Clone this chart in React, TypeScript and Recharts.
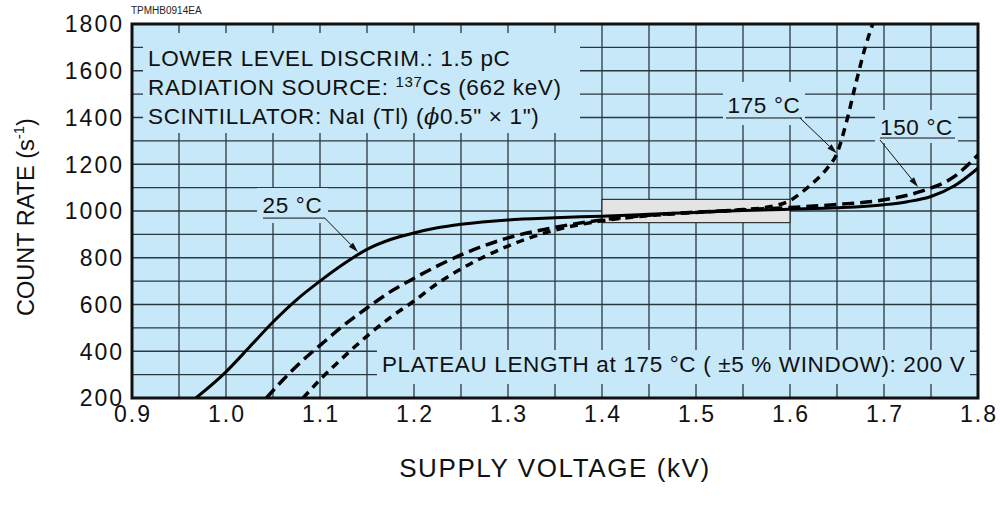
import {
  LineChart,
  Line,
  XAxis,
  YAxis,
  CartesianGrid,
  ReferenceArea,
  ReferenceLine,
} from "recharts";

const FONT = '"Liberation Sans", Arial, Helvetica, sans-serif';
const BG = "#c6e8f8";

// grid every 0.05 kV / 100 s-1, labels every 0.1 kV / 200 s-1
const xGrid = [0.9, 0.95, 1.0, 1.05, 1.1, 1.15, 1.2, 1.25, 1.3, 1.35, 1.4, 1.45, 1.5, 1.55, 1.6, 1.65, 1.7, 1.75, 1.8];
const xLabels = [0.9, 1.0, 1.1, 1.2, 1.3, 1.4, 1.5, 1.6, 1.7, 1.8];
const yGrid = [200, 300, 400, 500, 600, 700, 800, 900, 1000, 1100, 1200, 1300, 1400, 1500, 1600, 1700, 1800];
const yLabels = [200, 400, 600, 800, 1000, 1200, 1400, 1600, 1800];

// 25 °C (solid)
const kv25 = [0.968, 1.0, 1.025, 1.05, 1.075, 1.1, 1.125, 1.15, 1.175, 1.2, 1.225, 1.25, 1.3, 1.35, 1.4, 1.45, 1.5, 1.55, 1.6, 1.65, 1.7, 1.725, 1.75, 1.775, 1.8];
const rate25 = [200, 312, 418, 525, 620, 700, 773, 836, 878, 906, 928, 943, 962, 971, 978, 986, 994, 1002, 1008, 1014, 1027, 1040, 1062, 1108, 1183];

// 150 °C (long dash)
const kv150 = [1.043, 1.06, 1.08, 1.1, 1.125, 1.15, 1.175, 1.2, 1.225, 1.25, 1.275, 1.3, 1.35, 1.4, 1.45, 1.5, 1.55, 1.6, 1.65, 1.7, 1.74, 1.775, 1.8];
const rate150 = [200, 275, 355, 425, 510, 585, 655, 712, 765, 812, 852, 885, 930, 962, 982, 995, 1005, 1015, 1028, 1048, 1085, 1148, 1240];

// 175 °C (short dash)
const kv175 = [1.082, 1.1, 1.125, 1.15, 1.175, 1.2, 1.225, 1.25, 1.275, 1.3, 1.35, 1.4, 1.45, 1.5, 1.55, 1.575, 1.6, 1.62, 1.64, 1.65, 1.66, 1.67, 1.68, 1.688];
const rate175 = [200, 278, 375, 465, 545, 615, 690, 752, 805, 850, 918, 958, 980, 994, 1006, 1016, 1045, 1105, 1185, 1247, 1380, 1545, 1700, 1800];

const data25 = kv25.map((kv, i) => ({ kv, rate: rate25[i] }));
const data150 = kv150.map((kv, i) => ({ kv, rate: rate150[i] }));
const data175 = kv175.map((kv, i) => ({ kv, rate: rate175[i] }));

const near = (list: number[], v: number) => list.some((t) => Math.abs(t - v) < 1e-6);

const textStyle = { fontSize: 22.5, fontFamily: FONT, fill: "#111", letterSpacing: 0.65 };

const XTick = ({ x, y, payload }: any) =>
  near(xLabels, payload.value) ? (
    <text x={x + 1} y={y} dy="0.72em" textAnchor="middle" fontSize={23} letterSpacing={2} fontFamily={FONT} fill="#111">
      {payload.value.toFixed(1)}
    </text>
  ) : (
    <g />
  );

const YTick = ({ x, y, payload }: any) =>
  near(yLabels, payload.value) ? (
    <text x={x + 2} y={y} dy="0.36em" textAnchor="end" fontSize={23} letterSpacing={2} fontFamily={FONT} fill="#111">
      {payload.value}
    </text>
  ) : (
    <g />
  );

// arrow for the temperature call-outs
const Arrow = (p: any) => {
  const { x1, y1, x2, y2 } = p;
  const a = Math.atan2(y2 - y1, x2 - x1);
  const L = 10;
  const W = 3;
  const bx = x2 - L * Math.cos(a);
  const by = y2 - L * Math.sin(a);
  const pts = `${x2},${y2} ${bx - W * Math.sin(a)},${by + W * Math.cos(a)} ${bx + W * Math.sin(a)},${by - W * Math.cos(a)}`;
  return (
    <g>
      <line x1={x1} y1={y1} x2={bx} y2={by} stroke="#111" strokeWidth={1} />
      <polygon points={pts} fill="#111" />
    </g>
  );
};

const tempLabel = (text: string, baseline: number, ulY: number, ulX1: number, ulX2: number) => (p: any) => {
  const { x, y, width } = p.viewBox;
  return (
    <g>
      <text x={x + width / 2} y={y + baseline} textAnchor="middle" {...textStyle}>
        {text}
      </text>
      <line x1={x + ulX1} y1={y + ulY} x2={x + ulX2} y2={y + ulY} stroke="#111" strokeWidth={1} />
    </g>
  );
};

const infoLabel = (p: any) => {
  const { x, y } = p.viewBox;
  return (
    <g>
      <text x={x + 5} y={y + 33} {...textStyle}>LOWER LEVEL DISCRIM.: 1.5 pC</text>
      <text x={x + 5} y={y + 62} {...textStyle}>
        RADIATION SOURCE: <tspan fontSize={15} dy={-8}>137</tspan>
        <tspan dy={8}>Cs (662 keV)</tspan>
      </text>
      <text x={x + 5} y={y + 90.5} {...textStyle}>
        SCINTILLATOR: NaI (Tl) (<tspan fontStyle="italic" fontFamily='"DejaVu Serif", serif'>ϕ</tspan>
        <tspan>0.5" × 1")</tspan>
      </text>
    </g>
  );
};

const plateauLabel = (p: any) => {
  const { x, y } = p.viewBox;
  return (
    <text x={x + 5} y={y + 22} {...textStyle}>
      PLATEAU LENGTH at 175 °C ( ±5 % WINDOW): 200 V
    </text>
  );
};

function XTitleLabel(p: any) {
  const { x, y, width } = p.viewBox;
  return (
    <text x={x + width / 2} y={y + 79} textAnchor="middle" fontSize={26} letterSpacing={1.6} fontFamily={FONT} fill="#111">
      SUPPLY VOLTAGE (kV)
    </text>
  );
}

function YTitleLabel(p: any) {
  const { y, height } = p.viewBox;
  const cx = 34;
  const cy = y + height / 2 + 6;
  return (
    <text x={cx} y={cy} transform={`rotate(-90 ${cx} ${cy})`} textAnchor="middle" fontSize={23.5} fontFamily={FONT} fill="#111">
      COUNT RATE (s<tspan fontSize={15} dy={-10}>-1</tspan>
      <tspan dy={10}>)</tspan>
    </text>
  );
}

export default function App() {
  return (
    <div style={{ position: "relative", width: 1000, height: 508, background: "#fff" }}>
      <style>{`body{margin:0}`}</style>
      <div
        style={{
          position: "absolute",
          left: 131,
          top: 5,
          fontFamily: FONT,
          fontSize: 10,
          color: "#222",
          lineHeight: "12px",
        }}
      >
        TPMHB0914EA
      </div>
      <LineChart width={1000} height={508} margin={{ top: 24, right: 22, bottom: 0, left: 0 }}>
        <CartesianGrid fill={BG} fillOpacity={1} stroke="#2a3840" strokeWidth={1.3} />
        <XAxis
          dataKey="kv"
          type="number"
          domain={[0.9, 1.8]}
          ticks={xGrid}
          interval={0}
          allowDataOverflow
          axisLine={false}
          tickLine={false}
          tickSize={0}
          tickMargin={7}
          height={110}
          tick={XTick}
          label={<XTitleLabel />}
        />
        <YAxis
          type="number"
          domain={[200, 1800]}
          ticks={yGrid}
          interval={0}
          allowDataOverflow
          axisLine={false}
          tickLine={false}
          tickSize={0}
          tickMargin={10}
          width={132}
          tick={YTick}
          label={<YTitleLabel />}
        />

        {/* text boxes that mask the grid */}
        <ReferenceArea x1={0.9117} x2={1.3766} y1={1334} y2={1761} fill={BG} fillOpacity={1} stroke="none" ifOverflow="visible" label={infoLabel} />
        <ReferenceArea x1={1.1606} x2={1.7915} y1={260} y2={405} fill={BG} fillOpacity={1} stroke="none" ifOverflow="visible" label={plateauLabel} />
        <ReferenceArea x1={1.033} x2={1.1085} y1={949} y2={1098} fill={BG} fillOpacity={1} stroke="none" ifOverflow="visible" label={tempLabel("25 °C", 25, 30, 6, 68)} />
        <ReferenceArea x1={1.5287} x2={1.616} y1={1368} y2={1552} fill={BG} fillOpacity={1} stroke="none" ifOverflow="visible" label={tempLabel("175 °C", 31, 36, 3, 79)} />
        <ReferenceArea x1={1.6904} x2={1.7787} y1={1291} y2={1432} fill={BG} fillOpacity={1} stroke="none" ifOverflow="visible" label={tempLabel("150 °C", 25, 28, 5, 80)} />

        {/* ±5 % plateau window */}
        <ReferenceArea x1={1.4} x2={1.6} y1={950} y2={1050} fill="#e4e4e4" fillOpacity={1} stroke="#111" strokeWidth={1} ifOverflow="visible" />

        <Line data={data25} dataKey="rate" type="monotone" stroke="#000" strokeWidth={3} dot={false} activeDot={false} isAnimationActive={false} />
        <Line data={data150} dataKey="rate" type="monotone" stroke="#000" strokeWidth={3.5} strokeDasharray="12 6" dot={false} activeDot={false} isAnimationActive={false} />
        <Line data={data175} dataKey="rate" type="monotone" stroke="#000" strokeWidth={3.5} strokeDasharray="8 6" dot={false} activeDot={false} isAnimationActive={false} />

        <ReferenceLine segment={[{ x: 1.105, y: 970 }, { x: 1.1404, y: 825 }]} ifOverflow="visible" shape={Arrow} />
        <ReferenceLine segment={[{ x: 1.6106, y: 1398 }, { x: 1.6497, y: 1247 }]} ifOverflow="visible" shape={Arrow} />
        <ReferenceLine segment={[{ x: 1.6957, y: 1304 }, { x: 1.7362, y: 1103 }]} ifOverflow="visible" shape={Arrow} />

        {/* frame */}
        <ReferenceArea x1={0.9} x2={1.8} y1={200} y2={1800} fill="none" stroke="#111" strokeWidth={3} ifOverflow="visible" />
      </LineChart>
    </div>
  );
}
